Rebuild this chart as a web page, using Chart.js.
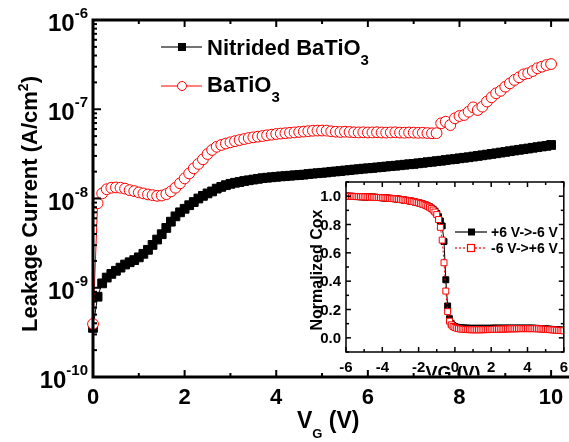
<!DOCTYPE html>
<html>
<head>
<meta charset="utf-8">
<script src="https://cdn.jsdelivr.net/npm/chart.js@4.4.1/dist/chart.umd.min.js"></script>
<style>
  body { margin: 0; background: #fff; }
  #wrap { position: relative; width: 569px; height: 442px; overflow: hidden; }
  #main { position: absolute; left: 0; top: 0; }
  #inset { position: absolute; left: 290px; top: 170px; }
</style>
</head>
<body>
<div id="wrap">
  <canvas id="main" width="600" height="442"></canvas>
  <canvas id="inset" width="279" height="272"></canvas>
</div>
<script>
// gate voltage grid for the leakage curves (V)
var vg = [];
for (var i = 0; i <= 100; i++) vg.push(i / 10);

// BaTiO3 leakage current (A/cm2)
var batio3 = [
  3.93e-10, 8.83e-9, 1.14e-8, 1.27e-8, 1.32e-8, 1.33e-8, 1.32e-8, 1.29e-8, 1.24e-8, 1.21e-8,
  1.17e-8, 1.14e-8, 1.11e-8, 1.09e-8, 1.07e-8, 1.08e-8, 1.12e-8, 1.20e-8, 1.32e-8, 1.48e-8,
  1.68e-8, 1.91e-8, 2.18e-8, 2.44e-8, 2.75e-8, 3.15e-8, 3.50e-8, 3.80e-8, 3.98e-8, 4.13e-8,
  4.26e-8, 4.39e-8, 4.52e-8, 4.64e-8, 4.76e-8, 4.85e-8, 4.93e-8, 5.01e-8, 5.11e-8, 5.19e-8,
  5.28e-8, 5.34e-8, 5.39e-8, 5.45e-8, 5.50e-8, 5.56e-8, 5.62e-8, 5.68e-8, 5.74e-8, 5.77e-8,
  5.77e-8, 5.76e-8, 5.66e-8, 5.60e-8, 5.56e-8, 5.60e-8, 5.56e-8, 5.52e-8, 5.50e-8, 5.52e-8,
  5.49e-8, 5.50e-8, 5.53e-8, 5.49e-8, 5.47e-8, 5.50e-8, 5.52e-8, 5.48e-8, 5.46e-8, 5.49e-8,
  5.47e-8, 5.44e-8, 5.46e-8, 5.41e-8, 5.38e-8, 5.40e-8, 6.96e-8, 7.25e-8, 6.66e-8, 7.92e-8,
  8.40e-8, 8.62e-8, 9.39e-8, 1.05e-7, 9.81e-8, 1.07e-7, 1.22e-7, 1.36e-7, 1.51e-7, 1.61e-7,
  1.79e-7, 1.95e-7, 2.13e-7, 2.28e-7, 2.46e-7, 2.53e-7, 2.68e-7, 2.88e-7, 3.00e-7, 3.13e-7,
  3.21e-7
];

// Nitrided BaTiO3 leakage current (A/cm2)
var nitrided = [
  3.55e-10, 7.94e-10, 1.12e-9, 1.30e-9, 1.43e-9, 1.55e-9, 1.68e-9, 1.82e-9, 1.93e-9, 2.04e-9,
  2.19e-9, 2.40e-9, 2.66e-9, 3.02e-9, 3.47e-9, 3.98e-9, 4.68e-9, 5.50e-9, 6.31e-9, 7.00e-9,
  7.67e-9, 8.41e-9, 9.12e-9, 1.00e-8, 1.07e-8, 1.14e-8, 1.20e-8, 1.29e-8, 1.35e-8, 1.41e-8,
  1.46e-8, 1.50e-8, 1.53e-8, 1.57e-8, 1.60e-8, 1.63e-8, 1.66e-8, 1.69e-8, 1.71e-8, 1.73e-8,
  1.75e-8, 1.77e-8, 1.78e-8, 1.80e-8, 1.82e-8, 1.83e-8, 1.85e-8, 1.88e-8, 1.90e-8, 1.92e-8,
  1.94e-8, 1.96e-8, 1.99e-8, 2.01e-8, 2.03e-8, 2.06e-8, 2.08e-8, 2.11e-8, 2.13e-8, 2.16e-8,
  2.18e-8, 2.20e-8, 2.23e-8, 2.25e-8, 2.28e-8, 2.31e-8, 2.33e-8, 2.36e-8, 2.39e-8, 2.42e-8,
  2.44e-8, 2.48e-8, 2.51e-8, 2.55e-8, 2.58e-8, 2.62e-8, 2.65e-8, 2.70e-8, 2.74e-8, 2.77e-8,
  2.82e-8, 2.86e-8, 2.90e-8, 2.95e-8, 3.00e-8, 3.05e-8, 3.10e-8, 3.16e-8, 3.21e-8, 3.27e-8,
  3.33e-8, 3.39e-8, 3.45e-8, 3.51e-8, 3.57e-8, 3.63e-8, 3.70e-8, 3.76e-8, 3.83e-8, 3.89e-8,
  3.98e-8
];

// inset: C-V sweep grid (V)
var cvV = [];
for (var j = -60; j <= 60; j++) cvV.push(j / 10);

// inset: normalized Cox, sweep -6 V -> +6 V
var upSweep = [
  1.000, 1.000, 0.999, 0.999, 0.998, 0.998, 0.997, 0.997, 0.996, 0.996, 0.995,
  0.995, 0.994, 0.994, 0.993, 0.993, 0.992, 0.991, 0.991, 0.990, 0.989,
  0.988, 0.987, 0.986, 0.985, 0.984, 0.983, 0.982, 0.980, 0.979, 0.977,
  0.975, 0.973, 0.971, 0.969, 0.967, 0.965, 0.962, 0.959, 0.956, 0.953,
  0.949, 0.945, 0.940, 0.935, 0.929, 0.922, 0.913, 0.902, 0.888, 0.870,
  0.835, 0.780, 0.690, 0.530, 0.330, 0.185, 0.118, 0.092, 0.080, 0.073,
  0.068, 0.065, 0.063, 0.061, 0.060, 0.059, 0.058, 0.058, 0.057, 0.057,
  0.057, 0.057, 0.057, 0.057, 0.057, 0.058, 0.058, 0.058, 0.059, 0.059,
  0.060, 0.060, 0.061, 0.061, 0.062, 0.062, 0.062, 0.063, 0.063, 0.063,
  0.064, 0.064, 0.064, 0.064, 0.065, 0.065, 0.065, 0.065, 0.065, 0.065,
  0.065, 0.065, 0.065, 0.065, 0.064, 0.064, 0.063, 0.062, 0.061, 0.060,
  0.059, 0.058, 0.057, 0.056, 0.055, 0.054, 0.053, 0.052, 0.051, 0.050
];

// inset: normalized Cox, sweep +6 V -> -6 V
var downSweep = [
  1.000, 1.000, 0.999, 0.999, 0.998, 0.998, 0.997, 0.997, 0.996, 0.996, 0.995,
  0.995, 0.994, 0.994, 0.993, 0.993, 0.992, 0.991, 0.991, 0.990, 0.989,
  0.988, 0.987, 0.986, 0.985, 0.984, 0.983, 0.982, 0.980, 0.979, 0.977,
  0.975, 0.973, 0.971, 0.969, 0.967, 0.965, 0.962, 0.959, 0.956, 0.953,
  0.950, 0.946, 0.942, 0.937, 0.931, 0.925, 0.917, 0.907, 0.895, 0.878,
  0.855, 0.825, 0.790, 0.680, 0.410, 0.225, 0.135, 0.100, 0.086, 0.079,
  0.075, 0.073, 0.071, 0.070, 0.069, 0.068, 0.068, 0.067, 0.067, 0.067,
  0.067, 0.067, 0.067, 0.067, 0.067, 0.067, 0.067, 0.067, 0.067, 0.067,
  0.068, 0.068, 0.068, 0.068, 0.068, 0.068, 0.068, 0.068, 0.068, 0.068,
  0.068, 0.068, 0.068, 0.068, 0.068, 0.068, 0.068, 0.068, 0.068, 0.068,
  0.068, 0.068, 0.068, 0.067, 0.067, 0.066, 0.066, 0.065, 0.064, 0.063,
  0.062, 0.061, 0.060, 0.059, 0.058, 0.057, 0.056, 0.055, 0.054, 0.053
];

var mainTicksX = [0, 2, 4, 6, 8, 10];
var mainDecades = [-10, -9, -8, -7, -6];
var insetTicksX = [-6, -4, -2, 0, 2, 4, 6];
var insetTicksY = [0, 0.2, 0.4, 0.6, 0.8, 1.0];

var FONT = '"Liberation Sans", Arial, Helvetica, sans-serif';
function bold(px) { return 'bold ' + px + 'px ' + FONT; }

function pairs(xs, ys) {
  return xs.map(function (x, k) { return { x: x, y: ys[k] }; });
}

// text made of pieces with own size and vertical shift (sub/superscripts)
function drawParts(ctx, parts, x, y, align) {
  var total = 0;
  parts.forEach(function (p) {
    ctx.font = bold(p.size);
    p.w = ctx.measureText(p.t).width;
    total += p.w;
  });
  var cx = align === 'right' ? x - total : align === 'center' ? x - total / 2 : x;
  ctx.textAlign = 'left';
  ctx.textBaseline = 'alphabetic';
  parts.forEach(function (p) {
    ctx.font = bold(p.size);
    ctx.fillText(p.t, cx, y + (p.dy || 0));
    cx += p.w;
  });
}

function seg(ctx, x1, y1, x2, y2) {
  ctx.beginPath();
  ctx.moveTo(x1, y1);
  ctx.lineTo(x2, y2);
  ctx.stroke();
}

var mainDecor = {
  id: 'mainDecor',
  afterDatasetsDraw: function (chart) {
    var ctx = chart.ctx, a = chart.chartArea;
    var x = chart.scales.x, y = chart.scales.y;
    ctx.save();
    ctx.strokeStyle = '#000';
    ctx.fillStyle = '#000';

    // ticks
    ctx.lineWidth = 2;
    for (var v = 0; v <= 10; v++) {
      var px = x.getPixelForValue(v);
      var len = v % 2 === 0 ? 7 : 4;
      seg(ctx, px, a.bottom, px, a.bottom - len);
      seg(ctx, px, a.top, px, a.top + len);
    }
    mainDecades.forEach(function (e) {
      for (var m = 1; m <= 9; m++) {
        if (e === -6 && m > 1) break;
        var py = y.getPixelForValue(m * Math.pow(10, e));
        seg(ctx, a.left, py, a.left + (m === 1 ? 8 : 4), py);
      }
    });

    // frame (right side is out of the picture)
    ctx.lineWidth = 3;
    ctx.beginPath();
    ctx.moveTo(a.right + 5, a.top);
    ctx.lineTo(a.left, a.top);
    ctx.lineTo(a.left, a.bottom);
    ctx.lineTo(a.right + 5, a.bottom);
    ctx.stroke();

    // tick labels
    mainTicksX.forEach(function (v) {
      ctx.font = bold(22);
      ctx.textAlign = 'center';
      ctx.textBaseline = 'alphabetic';
      ctx.fillText(String(v), x.getPixelForValue(v), 404);
    });
    mainDecades.forEach(function (e) {
      var py = y.getPixelForValue(Math.pow(10, e));
      drawParts(ctx, [
        { t: '10', size: 24 },
        { t: String(e), size: 15, dy: -13 }
      ], 88, py + 11, 'right');
    });

    // axis titles
    drawParts(ctx, [
      { t: 'V', size: 23 },
      { t: 'G', size: 13, dy: 10 },
      { t: ' (V)', size: 23 }
    ], 297, 428, 'left');

    ctx.save();
    ctx.translate(37, 204);
    ctx.rotate(-Math.PI / 2);
    drawParts(ctx, [
      { t: 'Leakage Current (A/cm', size: 22 },
      { t: '2', size: 14, dy: -9 },
      { t: ')', size: 22 }
    ], 0, 0, 'center');
    ctx.restore();

    // legend
    ctx.lineWidth = 1.5;
    ctx.strokeStyle = '#444';
    seg(ctx, 161, 47, 202, 47);
    ctx.fillStyle = '#000';
    ctx.fillRect(178, 43, 8, 8);
    ctx.strokeStyle = '#ff0000';
    ctx.lineWidth = 1;
    seg(ctx, 161, 86, 202, 86);
    ctx.beginPath();
    ctx.arc(182, 86, 4.5, 0, Math.PI * 2);
    ctx.fillStyle = '#fff';
    ctx.fill();
    ctx.stroke();
    ctx.fillStyle = '#000';
    drawParts(ctx, [
      { t: 'Nitrided BaTiO', size: 22 },
      { t: '3', size: 15, dy: 10 }
    ], 207, 55, 'left');
    drawParts(ctx, [
      { t: 'BaTiO', size: 22 },
      { t: '3', size: 15, dy: 10 }
    ], 207, 92, 'left');
    ctx.restore();
  }
};

new Chart(document.getElementById('main'), {
  type: 'line',
  data: {
    datasets: [
      {
        label: 'BaTiO3',
        data: pairs(vg, batio3),
        order: 0,
        borderColor: '#ff0000',
        borderWidth: 1,
        pointStyle: 'circle',
        pointRadius: 5.4,
        pointBackgroundColor: '#ffffff',
        pointBorderColor: '#ff0000',
        pointBorderWidth: 1,
        clip: false
      },
      {
        label: 'Nitrided BaTiO3',
        data: pairs(vg, nitrided),
        order: 1,
        borderColor: '#000',
        borderWidth: 1,
        pointStyle: 'rect',
        pointRadius: 6.2,
        pointBackgroundColor: '#000',
        pointBorderColor: '#000',
        pointBorderWidth: 1,
        clip: false
      }
    ]
  },
  options: {
    responsive: false,
    animation: false,
    devicePixelRatio: 1,
    layout: { padding: { left: 93, top: 20, right: 26, bottom: 65 } },
    plugins: { legend: { display: false }, tooltip: { enabled: false } },
    scales: {
      x: { type: 'linear', min: 0, max: 10.5, display: false },
      y: { type: 'logarithmic', min: 1e-10, max: 1e-6, display: false }
    }
  },
  plugins: [mainDecor]
});

var insetDecor = {
  id: 'insetDecor',
  beforeDatasetsDraw: function (chart) {
    var ctx = chart.ctx, a = chart.chartArea;
    ctx.save();
    ctx.fillStyle = '#fff';
    ctx.fillRect(a.left, a.top, a.right - a.left, a.bottom - a.top);
    ctx.restore();
  },
  afterDatasetsDraw: function (chart) {
    var ctx = chart.ctx, a = chart.chartArea;
    var x = chart.scales.x, y = chart.scales.y;
    ctx.save();
    ctx.strokeStyle = '#000';
    ctx.fillStyle = '#000';
    ctx.lineWidth = 1.5;
    ctx.strokeRect(a.left, a.top, a.right - a.left, a.bottom - a.top);

    ctx.lineWidth = 1.5;
    for (var v = -6; v <= 6; v++) {
      var px = x.getPixelForValue(v);
      var len = v % 2 === 0 ? 5 : 3;
      seg(ctx, px, a.bottom, px, a.bottom - len);
      seg(ctx, px, a.top, px, a.top + len);
    }
    for (var k = -1; k <= 11; k++) {
      var py = y.getPixelForValue(k / 10);
      var l2 = k % 2 === 0 ? 5 : 3;
      seg(ctx, a.left, py, a.left + l2, py);
      seg(ctx, a.right, py, a.right - l2, py);
    }

    ctx.font = bold(15);
    ctx.textAlign = 'center';
    ctx.textBaseline = 'alphabetic';
    insetTicksX.forEach(function (v) {
      ctx.fillText(String(v), x.getPixelForValue(v), 202);
    });
    ctx.textAlign = 'right';
    ctx.textBaseline = 'middle';
    insetTicksY.forEach(function (v) {
      ctx.fillText(v.toFixed(1), 51, y.getPixelForValue(v) + 1);
    });

    // titles
    ctx.save();
    ctx.translate(32, 100);
    ctx.rotate(-Math.PI / 2);
    ctx.font = bold(16);
    ctx.textAlign = 'center';
    ctx.textBaseline = 'alphabetic';
    ctx.fillText('Normalized Cox', 0, 0);
    ctx.restore();

    ctx.save();
    ctx.beginPath();
    ctx.rect(0, 0, 279, 205.5);
    ctx.clip();
    ctx.font = bold(18);
    ctx.textAlign = 'center';
    ctx.textBaseline = 'alphabetic';
    ctx.fillText('VG (V)', 163, 209);
    ctx.restore();

    // legend
    ctx.lineWidth = 1.2;
    ctx.strokeStyle = '#000';
    seg(ctx, 165, 62, 197, 62);
    ctx.fillRect(178, 58.5, 7, 7);
    ctx.strokeStyle = '#ff0000';
    ctx.setLineDash([2, 2]);
    seg(ctx, 165, 78, 197, 78);
    ctx.setLineDash([]);
    ctx.fillStyle = '#fff';
    ctx.fillRect(177.5, 74.5, 7, 7);
    ctx.strokeRect(177.5, 74.5, 7, 7);
    ctx.fillStyle = '#000';
    ctx.font = bold(14);
    ctx.textAlign = 'left';
    ctx.textBaseline = 'alphabetic';
    ctx.fillText('+6 V->-6 V', 201, 67);
    ctx.fillText('-6 V->+6 V', 201, 83);
    ctx.restore();
  }
};

new Chart(document.getElementById('inset'), {
  type: 'line',
  data: {
    datasets: [
      {
        label: '-6 V->+6 V',
        data: pairs(cvV, upSweep),
        order: 0,
        borderColor: '#ff0000',
        borderWidth: 1,
        borderDash: [2, 2],
        pointStyle: 'rect',
        pointRadius: 4.2,
        pointBackgroundColor: '#ffffff',
        pointBorderColor: '#ff0000',
        pointBorderWidth: 1
      },
      {
        label: '+6 V->-6 V',
        data: pairs(cvV, downSweep),
        order: 1,
        borderColor: '#000',
        borderWidth: 1,
        pointStyle: 'rect',
        pointRadius: 4.2,
        pointBackgroundColor: '#000',
        pointBorderColor: '#000',
        pointBorderWidth: 1
      }
    ]
  },
  options: {
    responsive: false,
    animation: false,
    devicePixelRatio: 1,
    layout: { padding: { left: 56, top: 12, right: 1, bottom: 90 } },
    plugins: { legend: { display: false }, tooltip: { enabled: false } },
    scales: {
      x: { type: 'linear', min: -6, max: 6, display: false },
      y: { type: 'linear', min: -0.1, max: 1.1, display: false }
    }
  },
  plugins: [insetDecor]
});
</script>
</body>
</html>
